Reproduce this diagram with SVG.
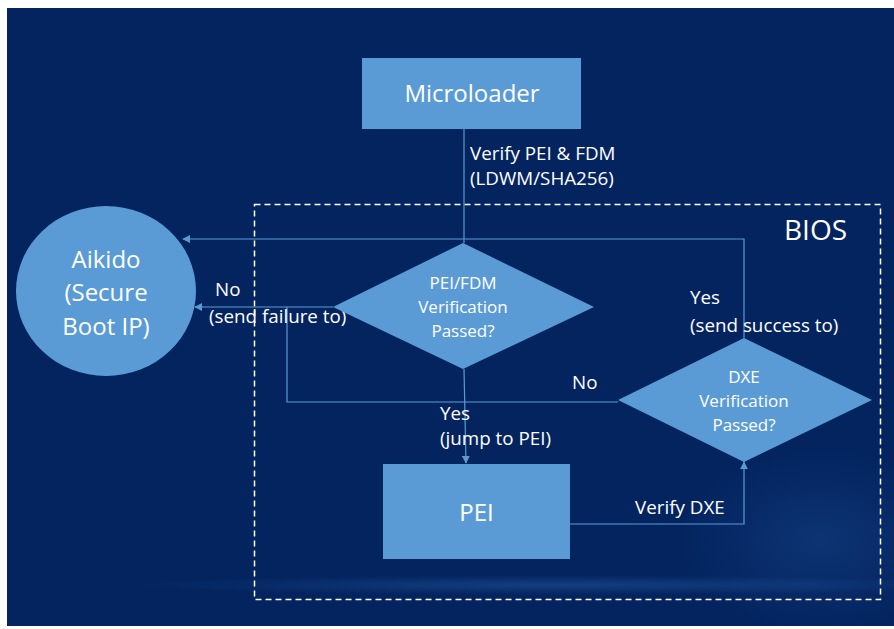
<svg xmlns="http://www.w3.org/2000/svg" width="894" height="629" viewBox="0 0 894 629">
  <defs>
    <style>
      .node { fill: #5B9BD5; }
      .edge { fill: none; stroke: #5B9BD5; stroke-width: 1.2; }
      .lbl { font-family: "Open Sans", "Liberation Sans", Arial, sans-serif; fill: #FFFFFF; }
      .t17 { font-size: 18.8px; }
      .tq { font-size: 17px; }
      .ctr { text-anchor: middle; }
    </style>
    <marker id="arrow" viewBox="0 0 10 10" refX="9" refY="5" markerWidth="8" markerHeight="8" markerUnits="userSpaceOnUse" orient="auto">
      <path d="M0,0 L10,5 L0,10 Z" fill="#5B9BD5"/>
    </marker>
    <radialGradient id="glow" cx="0.5" cy="0.5" r="0.5">
      <stop offset="0" stop-color="#2A5EA8" stop-opacity="0.45"/>
      <stop offset="1" stop-color="#2A5EA8" stop-opacity="0"/>
    </radialGradient>
  </defs>

  <!-- page -->
  <rect x="0" y="0" width="894" height="629" fill="#FFFFFF"/>
  <rect x="7" y="8" width="887" height="618" fill="#03245F"/>
  <!-- faint light streak in the lower background -->
  <ellipse cx="560" cy="585" rx="420" ry="10" fill="url(#glow)"/>
  <ellipse cx="820" cy="540" rx="140" ry="90" fill="url(#glow)" opacity="0.6"/>

  <!-- BIOS boundary -->
  <g id="bios">
    <rect x="254.5" y="204.5" width="626" height="395" fill="none" stroke="#FFFFFF" stroke-width="1.5" stroke-dasharray="6 4"/>
    <text class="lbl" x="815.5" y="240" font-size="28" text-anchor="middle">BIOS</text>
  </g>

  <!-- connectors -->
  <g id="connectors">
    <!-- Microloader to PEI/FDM check -->
    <path class="edge" d="M464,129 V243"/>
    <!-- PEI/FDM failure to Aikido -->
    <path class="edge" d="M333,307 H195" marker-end="url(#arrow)"/>
    <!-- DXE failure joins failure path -->
    <path class="edge" d="M618,402 H287 V307"/>
    <!-- PEI/FDM success to PEI -->
    <path class="edge" d="M464,369 L466,463" marker-end="url(#arrow)"/>
    <!-- PEI to DXE check -->
    <path class="edge" d="M570,524 H744 V462" marker-end="url(#arrow)"/>
    <!-- DXE success to Aikido -->
    <path class="edge" d="M744,338 V239 H183" marker-end="url(#arrow)"/>

    <text class="lbl t17" x="470" y="160">Verify PEI &amp; FDM</text>
    <text class="lbl t17" x="470" y="185">(LDWM/SHA256)</text>
    <text class="lbl t17" x="215" y="296">No</text>
    <text class="lbl t17" x="209" y="323">(send failure to)</text>
    <text class="lbl t17" x="572" y="389">No</text>
    <text class="lbl t17" x="690" y="304">Yes</text>
    <text class="lbl t17" x="690" y="332">(send success to)</text>
    <text class="lbl t17" x="440" y="420">Yes</text>
    <text class="lbl t17" x="440" y="445">(jump to PEI)</text>
    <text class="lbl t17" x="635" y="514">Verify DXE</text>
  </g>

  <g id="microloader">
    <rect class="node" x="362" y="58" width="219" height="71"/>
    <text class="lbl ctr" x="472" y="102" font-size="24">Microloader</text>
  </g>

  <g id="aikido">
    <ellipse class="node" cx="106" cy="291" rx="90" ry="85"/>
    <text class="lbl ctr" x="106" y="268" font-size="24">Aikido</text>
    <text class="lbl ctr" x="106" y="301" font-size="24">(Secure</text>
    <text class="lbl ctr" x="106" y="335" font-size="24">Boot IP)</text>
  </g>

  <g id="pei-fdm-check">
    <polygon class="node" points="463,243 594,307 463,369 333,307"/>
    <text class="lbl tq ctr" x="463" y="289">PEI/FDM</text>
    <text class="lbl tq ctr" x="463" y="313">Verification</text>
    <text class="lbl tq ctr" x="463" y="337">Passed?</text>
  </g>

  <g id="dxe-check">
    <polygon class="node" points="744,338 872,400 744,462 618,400"/>
    <text class="lbl tq ctr" x="744" y="383">DXE</text>
    <text class="lbl tq ctr" x="744" y="407">Verification</text>
    <text class="lbl tq ctr" x="744" y="431">Passed?</text>
  </g>

  <g id="pei">
    <rect class="node" x="383" y="464" width="187" height="95"/>
    <text class="lbl ctr" x="476.5" y="521" font-size="24">PEI</text>
  </g>
</svg>
